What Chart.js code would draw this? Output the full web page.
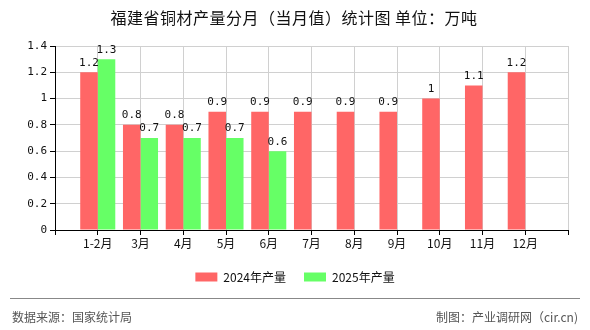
<!DOCTYPE html>
<html>
<head>
<meta charset="utf-8">
<script src="https://cdn.jsdelivr.net/npm/chart.js@4"></script>
<style>
    body { margin: 0; background: #fff; }
    #wrap { position: relative; width: 590px; height: 330px; overflow: hidden; font-family: "Noto Sans CJK SC", sans-serif; }
    #chart { position: absolute; left: 0; top: 0; }
    .title { position: absolute; left: 0; width: 588px; top: 5px; text-align: center; font-size: 16px; letter-spacing: 0.5px; color: #111; }
    .sep { position: absolute; left: 10px; width: 570px; top: 298px; height: 0; border-top: 1px solid #888; }
    .foot { position: absolute; top: 308px; font-size: 12px; color: #555; }
</style>
</head>
<body>
<div id="wrap">
    <canvas id="chart" width="590" height="330"></canvas>
    <div class="title">福建省铜材产量分月（当月值）统计图&nbsp;单位：万吨</div>
    <div class="sep"></div>
    <div class="foot" style="left:12px">数据来源：国家统计局</div>
    <div class="foot" style="right:12px">制图：产业调研网（cir.cn)</div>
</div>
<script>
// Kategorien (leere Plätze links und rechts wie im Original)
const monate = ['', '1-2月', '3月', '4月', '5月', '6月', '7月', '8月', '9月', '10月', '11月', '12月', ''];
const werte2024 = [null, 1.2, 0.8, 0.8, 0.9, 0.9, 0.9, 0.9, 0.9, 1, 1.1, 1.2, null];
const werte2025 = [null, 1.3, 0.7, 0.7, 0.7, 0.6, null, null, null, null, null, null, null];
const yTicks = [0, 0.2, 0.4, 0.6, 0.8, 1, 1.2, 1.4];

// Werte über den Balken
const wertLabels = {
    id: 'wertLabels',
    afterDatasetsDraw(chart) {
        const ctx = chart.ctx;
        ctx.save();
        ctx.font = '11px "DejaVu Sans Mono", monospace';
        ctx.fillStyle = '#111';
        ctx.textAlign = 'center';
        ctx.textBaseline = 'bottom';
        chart.data.datasets.forEach((ds, i) => {
            const meta = chart.getDatasetMeta(i);
            meta.data.forEach((bar, j) => {
                const v = ds.data[j];
                if (v === null || v === undefined) return;
                ctx.fillText(String(v), bar.x, bar.y - 4);
            });
        });
        ctx.restore();
    }
};

// Legende über die ganze Breite zentrieren (nicht nur links vom rechten Rand)
const legendeMitte = {
    id: 'legendeMitte',
    afterLayout(chart) {
        if (!chart.legend) return;
        chart.legend.left = 0;
        chart.legend.right = chart.width;
    }
};

const ctx = document.getElementById('chart').getContext('2d');
new Chart(ctx, {
    type: 'bar',
    data: {
        labels: monate,
        datasets: [
            { label: '2024年产量', data: werte2024, backgroundColor: '#ff6666' },
            { label: '2025年产量', data: werte2025, backgroundColor: '#66ff66' }
        ]
    },
    options: {
        responsive: false,
        animation: false,
        layout: { padding: { top: 46, left: 0, right: 22, bottom: 37 } },
        datasets: { bar: { categoryPercentage: 0.82, barPercentage: 1 } },
        plugins: {
            title: { display: false },
            tooltip: { enabled: false },
            legend: {
                position: 'bottom',
                labels: {
                    boxWidth: 22,
                    boxHeight: 9,
                    padding: 18,
                    color: '#111',
                    font: { size: 12, family: '"Noto Sans CJK SC", sans-serif' }
                }
            }
        },
        scales: {
            x: {
                offset: false,
                grid: { offset: false, color: '#d0d0d0', tickColor: '#000', tickLength: 5 },
                border: { color: '#000', width: 1 },
                ticks: {
                    autoSkip: false,
                    maxRotation: 0,
                    padding: 1,
                    color: '#111',
                    font: { size: 12, family: '"Noto Sans CJK SC", sans-serif' }
                },
                afterFit(scale) { scale.height = 23; }
            },
            y: {
                min: 0,
                max: 1.4,
                grid: { color: '#d0d0d0', tickColor: '#000', tickLength: 5 },
                border: { color: '#000', width: 1 },
                ticks: {
                    stepSize: 0.2,
                    padding: 3,
                    color: '#111',
                    font: { size: 11, family: '"DejaVu Sans Mono", monospace' },
                    callback: (v, i) => String(yTicks[i])
                },
                afterFit(scale) { scale.width = 55; }
            }
        }
    },
    plugins: [wertLabels, legendeMitte]
});
</script>
</body>
</html>
